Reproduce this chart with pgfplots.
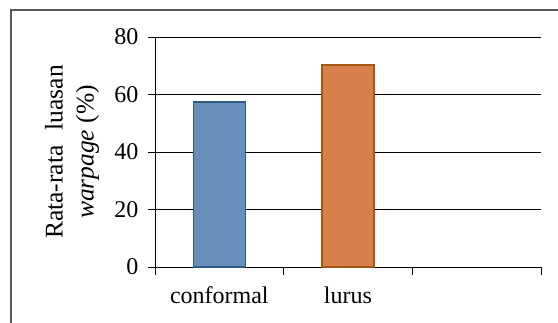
\documentclass[border=0pt]{standalone}
\usepackage{pgfplots}
\pgfplotsset{compat=1.18}
\usepackage{fontspec}
\setmainfont{Liberation Serif}
\definecolor{bfill}{HTML}{6A8EBB}
\definecolor{bedge}{HTML}{2E5C84}
\definecolor{ofill}{HTML}{D77F4B}
\definecolor{oedge}{HTML}{A35A10}
\definecolor{frame}{HTML}{595959}
\begin{document}
\begin{tikzpicture}
\clip (-155pt,-55pt) rectangle (403pt,267pt);
\draw[frame, line width=1.5pt] (-144pt,-100pt) -- (-144pt,257pt) -- (500pt,257pt);
\begin{axis}[
  scale only axis,
  width=386pt, height=230pt,
  ymin=0, ymax=80, ytick={0,20,40,60,80},
  xmin=-0.5, xmax=2.5,
  xtick={0,1}, xticklabels={conformal,lurus},
  minor xtick={-0.5,0.5,1.5,2.5},
  axis lines*=left,
  axis line style={black, line width=0.9pt},
  tick align=outside,
  major x tick style={draw=none},
  minor x tick style={black, line width=0.9pt},
  minor tick length=8pt,
  y tick style={black, line width=0.9pt},
  major tick length=7pt,
  ymajorgrids,
  grid style={black, line width=0.9pt},
  /pgf/number format/assume math mode=true,
  tick label style={font=\fontsize{24}{28}\selectfont},
  yticklabel style={xshift=-6pt},
  xticklabel style={yshift=-9pt},
  ylabel={Rata-rata\hspace{0.6em}luasan\\\textit{warpage} (\%)},
  ylabel style={font=\fontsize{25.5}{31}\selectfont, align=center, at={(axis description cs:-0.215,0.5)}, anchor=center, rotate=0},
  ybar, bar width=52pt,
  clip=false,
]
\addplot[ybar, fill=bfill, draw=bedge, line width=1.6pt, bar shift=0pt] coordinates {(0,57.4)};
\addplot[ybar, fill=ofill, draw=oedge, line width=1.6pt, bar shift=0pt] coordinates {(1,70.2)};
\end{axis}
\end{tikzpicture}
\end{document}
